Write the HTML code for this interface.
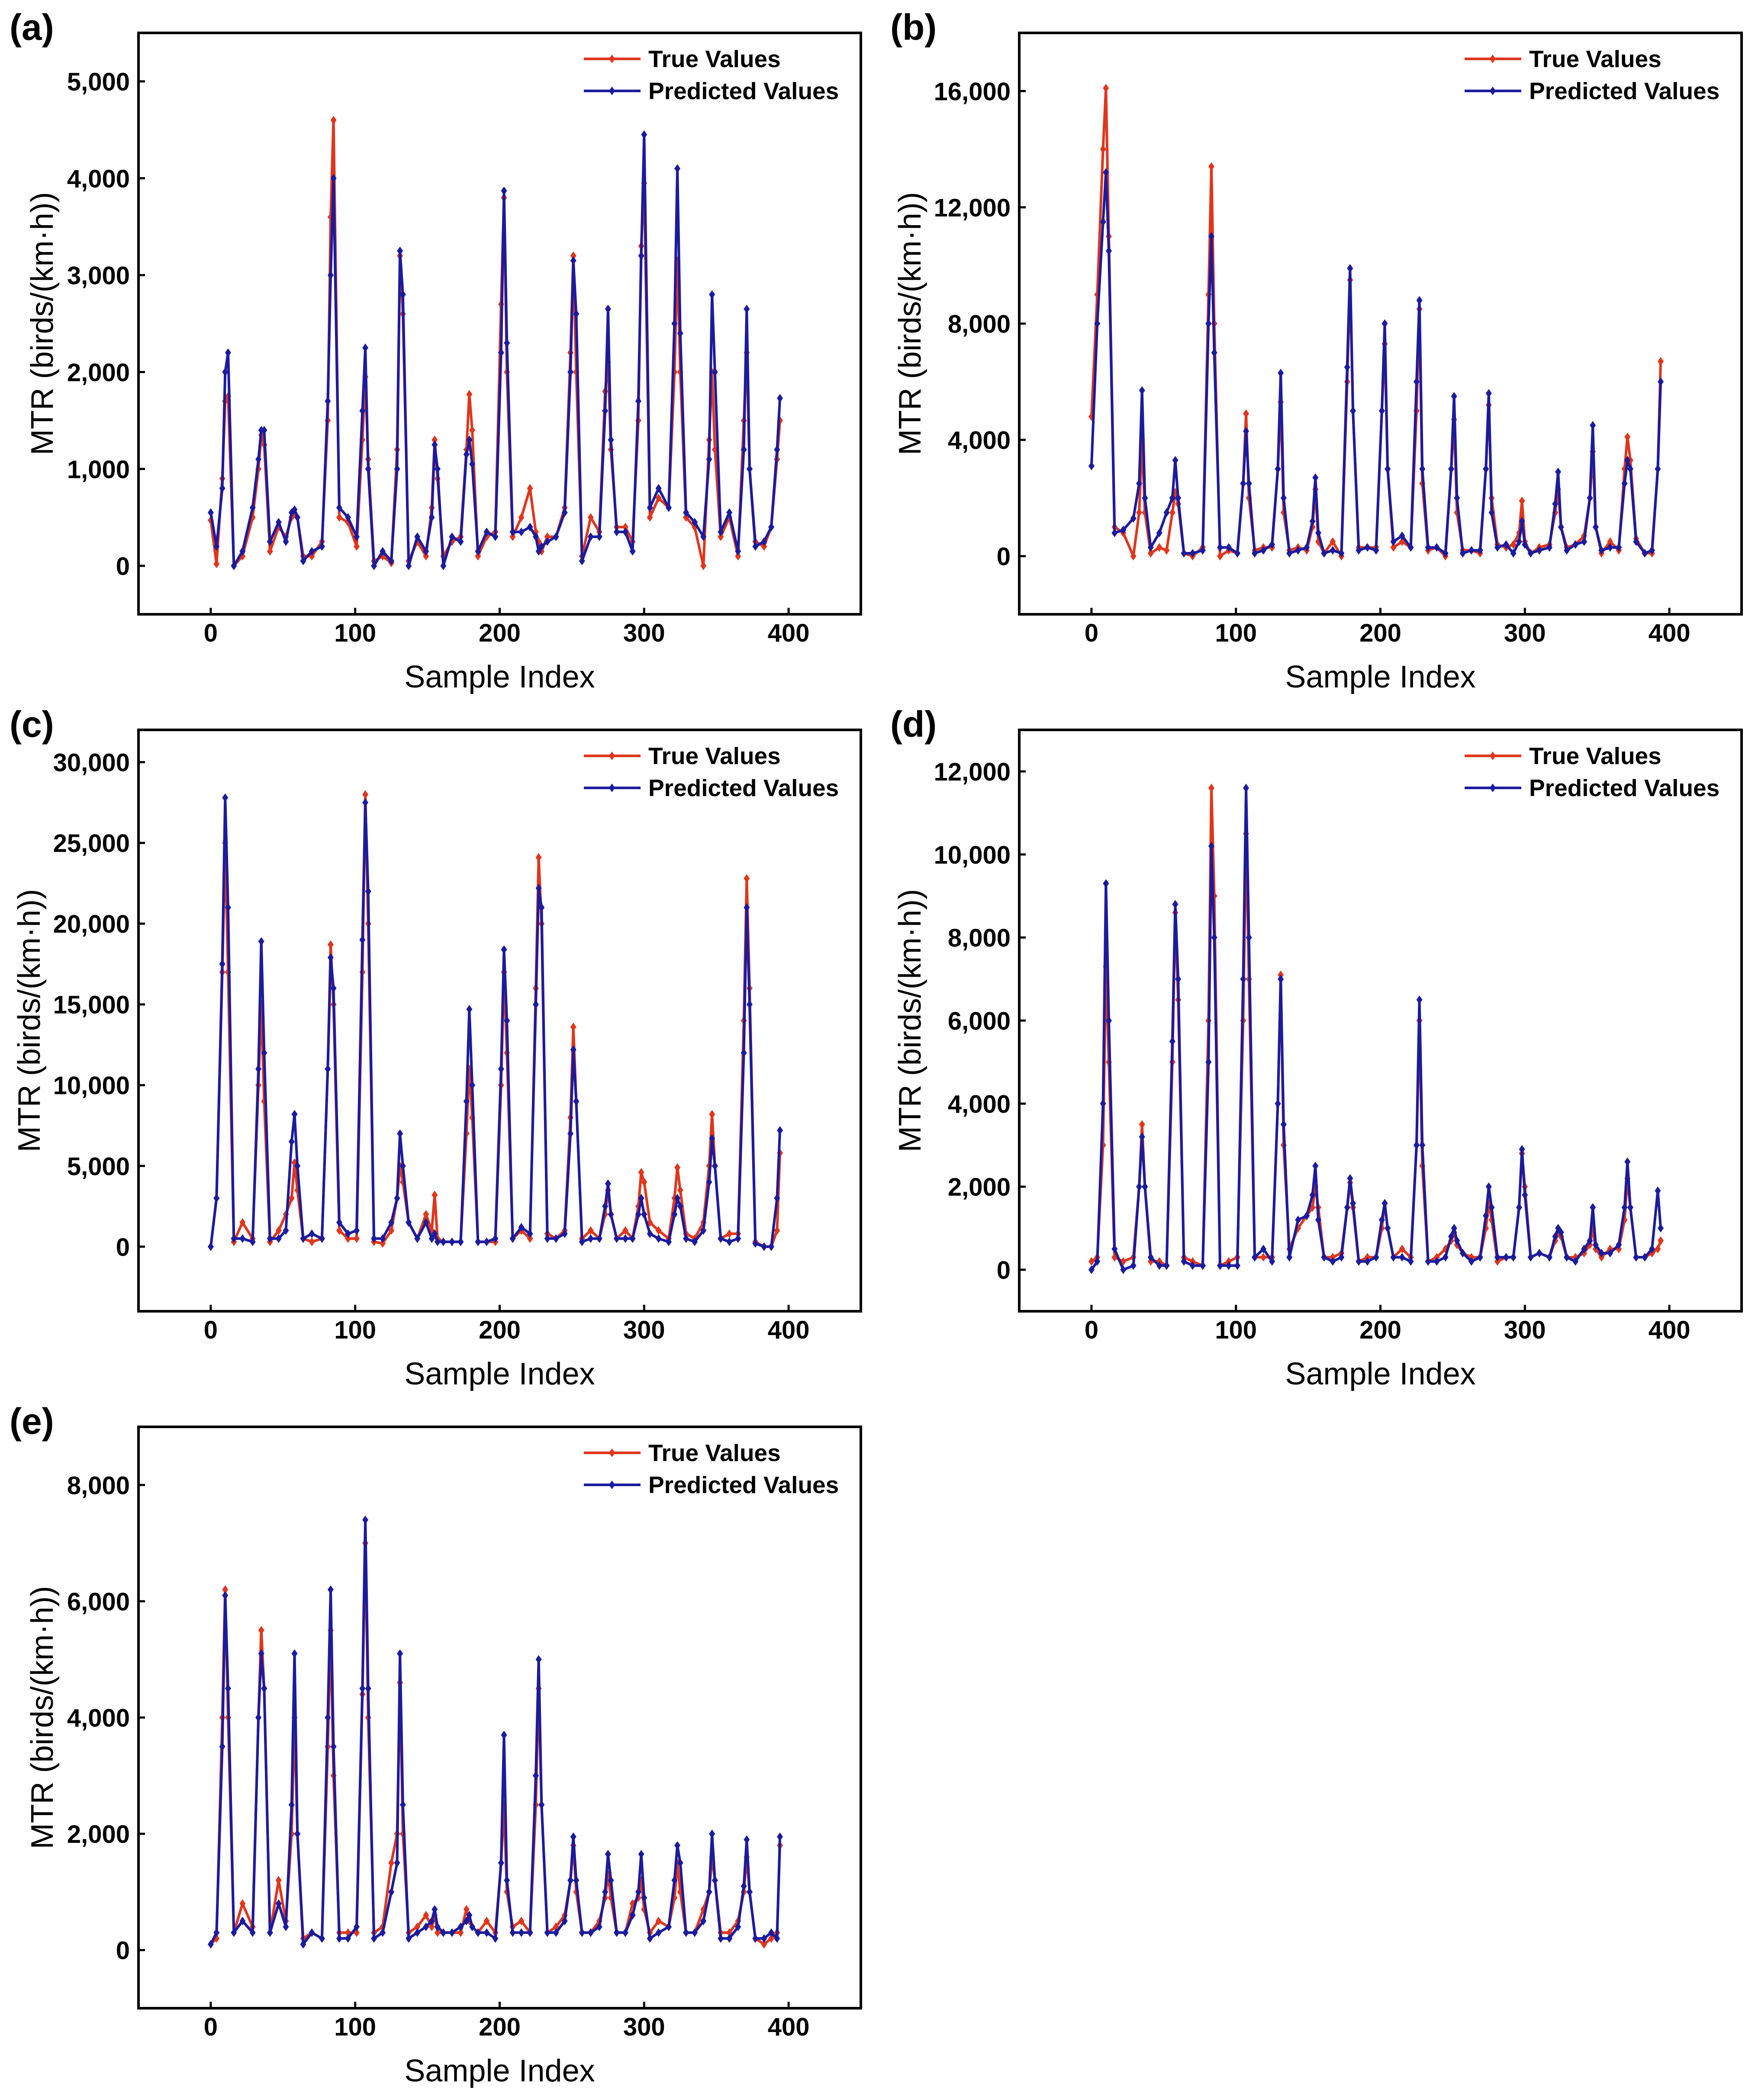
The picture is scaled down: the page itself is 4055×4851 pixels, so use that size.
<!DOCTYPE html>
<html><head><meta charset="utf-8"><style>
html,body{margin:0;padding:0;background:#fff}
svg{display:block}
text{font-family:"Liberation Sans",Arial,sans-serif}
</style></head><body>
<svg id="fig" width="4055" height="4851" viewBox="0 0 4055 4851" xmlns="http://www.w3.org/2000/svg"></svg>
<script>
// shared sample indices
const idx = [0,4,8,10,12,16,
22,29,33,35,37,41, 47,52,56,58,60,64, 70,77,81,83,85,89, 95,101,105,107,109,113,
119,125,129,131,133,137, 143,149,153,155,157,161, 167,173,177,179,181,185,
191,197,201,203,205,209, 215,221,225,227,229,233, 239,245,249,251,253,257,
263,269,273,275,277,281, 287,292,296,298,300,304, 310,317,321,323,325,329,
335,341,345,347,349,353, 359,365,369,371,373,377, 383,388,392,394];

const aTrue=[470,20,900,1700,1750,0, 100,500,1000,1350,1250,150, 400,300,500,550,500,100, 100,250,1500,3600,4600,500, 450,200,1300,1950,1100,50, 100,30,1200,3200,2600,50, 250,100,600,1300,900,100, 250,300,1200,1770,1400,100, 300,350,2700,3800,2000,300, 500,800,350,250,150,300, 300,600,2200,3200,2000,100, 500,350,1800,2100,1200,400, 400,250,1500,3300,3950,500, 700,600,2000,3150,2000,500, 400,0,1300,2000,1200,300, 500,100,1500,2200,1000,250, 200,400,1100,1500];
const aPred=[550,200,800,2000,2200,0, 150,600,1100,1400,1400,250, 450,250,550,580,500,50, 150,200,1700,3000,4000,600, 500,300,1600,2250,1000,0, 150,50,1000,3250,2800,0, 300,150,500,1250,1000,0, 300,250,1150,1300,1050,150, 350,300,2200,3870,2300,350, 350,400,300,150,200,250, 300,550,2000,3150,2600,50, 300,300,1600,2650,1300,350, 350,150,1700,3200,4450,600, 800,600,2500,4100,2400,550, 450,300,1100,2800,2000,350, 550,150,1200,2650,1000,200, 250,400,1200,1730];

const bTrue=[4800,9000,14000,16100,11000,1000, 800,0,1500,4000,1500,100, 300,200,1500,2200,1800,100, 0,300,9000,13400,8000,0, 200,100,2500,4900,2000,200, 300,300,3000,5300,1500,200, 300,200,1000,2300,500,100, 500,0,6000,9500,5000,300, 300,300,5000,7300,3000,300, 500,300,5000,8500,2500,200, 300,0,3000,4700,1500,200, 200,100,3000,5200,2000,400, 300,400,800,1900,500,100, 300,400,1500,2300,1000,300, 400,700,2000,3600,1000,100, 500,200,3000,4100,3300,600, 100,100,3000,6700];
const bPred=[3100,8000,11500,13200,10500,800, 900,1300,2500,5700,2000,300, 800,1500,2000,3300,2000,100, 100,200,8000,11000,7000,300, 300,100,2500,4300,2500,100, 200,400,3000,6300,2000,100, 200,300,1200,2700,800,100, 200,100,6500,9900,5000,200, 300,200,5000,8000,3000,500, 700,300,6000,8800,3000,300, 300,100,3000,5500,2000,100, 200,200,3000,5600,1500,300, 400,100,500,1200,400,100, 200,300,1800,2900,1000,200, 400,500,2000,4500,1000,200, 300,300,2500,3300,3000,500, 100,200,3000,6000];

const cTrue=[0,3000,17000,25000,17000,300, 1500,500,10000,15000,9000,300, 1000,2000,3000,5200,3500,500, 300,500,11000,18700,15000,1000, 500,500,17000,28000,20000,300, 200,1000,3000,5000,4000,1500, 500,2000,1000,3200,500,300, 300,300,7000,11000,8000,300, 300,300,10000,17000,12000,500, 1000,500,16000,24100,20000,800, 500,1000,8000,13600,9000,500, 1000,500,2000,3500,2000,500, 1000,500,2500,4600,4000,1500, 1000,500,3000,4900,3500,800, 500,1500,5000,8200,5000,500, 800,800,14000,22800,16000,300, 0,0,1000,5800];
const cPred=[0,3000,17500,27800,21000,500, 500,300,11000,18900,12000,500, 500,1000,6500,8200,5000,500, 800,500,11000,17900,16000,1500, 800,1000,19000,27500,22000,500, 500,1500,3000,7000,5000,1500, 500,1500,500,800,300,300, 300,300,9000,14700,10000,300, 300,500,11000,18400,14000,500, 1200,800,15000,22200,21000,500, 500,800,7000,12200,9000,300, 500,500,2500,3900,2000,500, 500,500,2000,3000,2000,800, 500,300,2000,3000,2500,500, 300,1000,4000,6700,5000,500, 300,500,12000,21000,15000,200, 0,0,3000,7200];

const dTrue=[200,300,3000,7300,5000,300, 200,300,2000,3500,2000,200, 200,100,5000,8600,6500,300, 200,100,6000,11600,9000,100, 200,300,6000,10500,7000,300, 300,300,4000,7100,3000,500, 1000,1300,1500,2000,1500,300, 300,400,1500,2100,1500,200, 300,300,1000,1600,1000,300, 500,300,3000,6000,2500,200, 300,500,700,900,600,400, 300,300,1000,1600,1200,200, 300,300,1500,2800,2000,300, 400,300,700,900,800,300, 300,400,600,1000,500,300, 500,500,1200,2200,1500,300, 300,400,500,700];
const dPred=[0,200,4000,9300,6000,500, 0,100,2000,3200,2000,300, 100,100,5500,8800,7000,200, 100,100,5000,10200,8000,100, 100,100,7000,11600,8000,300, 500,200,4000,7000,3500,300, 1200,1300,1800,2500,1200,300, 200,300,1500,2200,1600,200, 200,300,1200,1600,1000,300, 300,200,3000,6500,3000,200, 200,300,800,1000,700,400, 200,300,1300,2000,1500,300, 300,300,1500,2900,1800,300, 400,300,800,1000,900,300, 200,500,700,1500,600,400, 400,600,1500,2600,1500,300, 300,500,1900,1000];

const eTrue=[100,200,4000,6200,4000,300, 800,400,4000,5500,4500,300, 1200,500,2000,4000,2000,200, 300,200,3500,5500,3000,300, 300,300,4400,7000,4000,300, 400,1500,2000,4600,2000,300, 400,600,400,600,300,300, 300,300,700,500,400,300, 500,300,1500,2500,1000,400, 500,300,2500,4500,2500,300, 400,600,1200,1800,1000,300, 300,500,900,1300,900,300, 300,800,900,1200,700,300, 500,400,900,1500,1000,300, 300,700,1000,1600,1200,300, 300,500,1000,1600,1000,200, 100,200,300,1800];
const ePred=[100,300,3500,6100,4500,300, 500,300,4000,5100,4500,300, 800,400,2500,5100,2000,100, 300,200,4000,6200,3500,200, 200,400,4500,7400,4500,200, 300,1000,1500,5100,2500,200, 300,400,500,700,400,300, 300,400,500,600,400,300, 300,200,1500,3700,1200,300, 300,300,3000,5000,2500,300, 300,500,1200,1950,1200,300, 300,400,1000,1650,1200,300, 300,600,1000,1650,900,200, 300,400,1200,1800,1500,300, 300,500,1000,2000,1200,200, 200,400,1100,1900,1000,200, 200,300,200,1950];

const panels=[
 {label:"(a)",ox:0,oy:0,ymin:-500,ymax:5500,ticks:[0,1000,2000,3000,4000,5000],t:aTrue,p:aPred},
 {label:"(b)",ox:2035,oy:0,ymin:-2000,ymax:18000,ticks:[0,4000,8000,12000,16000],t:bTrue,p:bPred},
 {label:"(c)",ox:0,oy:1610,ymin:-4000,ymax:32000,ticks:[0,5000,10000,15000,20000,25000,30000],t:cTrue,p:cPred},
 {label:"(d)",ox:2035,oy:1610,ymin:-1000,ymax:13000,ticks:[0,2000,4000,6000,8000,10000,12000],t:dTrue,p:dPred},
 {label:"(e)",ox:0,oy:3220,ymin:-1000,ymax:9000,ticks:[0,2000,4000,6000,8000],t:eTrue,p:ePred}
];
const xTicks=[0,100,200,300,400];

const NS="http://www.w3.org/2000/svg";
const svg=document.getElementById('fig');
function mk(tag,attrs,parent){const e=document.createElementNS(NS,tag);for(const k in attrs)e.setAttribute(k,attrs[k]);(parent||svg).appendChild(e);return e;}
const RED="#e0361c",BLUE="#1b1b9e";
const L=320,R=1989,T=76,B=1419;

panels.forEach((P,pi)=>{
  const g=mk('g',{transform:`translate(${P.ox},${P.oy})`});
  
  
  const xs=v=>L+(v+50)/500*(R-L);
  const ys=v=>B-(v-P.ymin)/(P.ymax-P.ymin)*(B-T);
  const lb=mk('text',{x:22,y:92,'font-size':84,'font-weight':'bold',fill:'#000'},g);
  lb.textContent=P.label;
  
  
  [[P.t,RED,'true-values-series'],[P.p,BLUE,'predicted-values-series']].forEach(([arr,col,nm])=>{
    const sg=mk('g',{},g);
    
    
    let d='';
    arr.forEach((v,i)=>{d+=(i?'L':'M')+xs(idx[i]).toFixed(1)+','+ys(v).toFixed(1);});
    mk('path',{d:d,fill:'none',stroke:col,'stroke-width':6,'stroke-linejoin':'round'},sg);
    arr.forEach((v,i)=>{
      const x=xs(idx[i]),y=ys(v);
      const m=mk('path',{d:`M${x},${y-10}L${x+7},${y}L${x},${y+10}L${x-7},${y}Z`,fill:col},sg);
      
      
    });
  });
  const fr=mk('rect',{x:L,y:T,width:R-L,height:B-T,fill:'none',stroke:'#000','stroke-width':6},g);
  
  
  let maxLen=0;
  P.ticks.forEach(v=>{
    const y=ys(v);
    mk('line',{x1:L,x2:L+15,y1:y,y2:y,stroke:'#000','stroke-width':5},g);
    const t=mk('text',{x:300,y:y+21,'font-size':58,'font-weight':'bold','text-anchor':'end'},g);
    t.textContent=v.toLocaleString('en-US');
    maxLen=Math.max(maxLen,t.textContent.length);
    
    
  });
  xTicks.forEach(v=>{
    const x=xs(v);
    mk('line',{x1:x,x2:x,y1:B,y2:B-15,stroke:'#000','stroke-width':5},g);
    const t=mk('text',{x:x,y:1482,'font-size':58,'font-weight':'bold','text-anchor':'middle'},g);
    t.textContent=v;
    
    
  });
  const xt=mk('text',{x:(L+R)/2,y:1588,'font-size':72,'text-anchor':'middle'},g);
  xt.textContent='Sample Index';
  
  
  const tx=maxLen>5?92:122;
  const yt=mk('text',{x:0,y:0,'font-size':72,'text-anchor':'middle',transform:`translate(${tx},${(T+B)/2}) rotate(-90)`},g);
  yt.textContent='MTR (birds/(km\u00B7h))';
  
  
  const lg=mk('g',{},g);
  
  
  [['True Values',RED,136],['Predicted Values',BLUE,210]].forEach(([name,col,y])=>{
    mk('line',{x1:1349,x2:1480,y1:y,y2:y,stroke:col,'stroke-width':6},lg);
    mk('path',{d:`M1414,${y-10}L1421,${y}L1414,${y+10}L1407,${y}Z`,fill:col},lg);
    const t=mk('text',{x:1498,y:y+19,'font-size':55,'font-weight':'bold'},lg);
    t.textContent=name;
    
    
  });
});
</script>
</body></html>
